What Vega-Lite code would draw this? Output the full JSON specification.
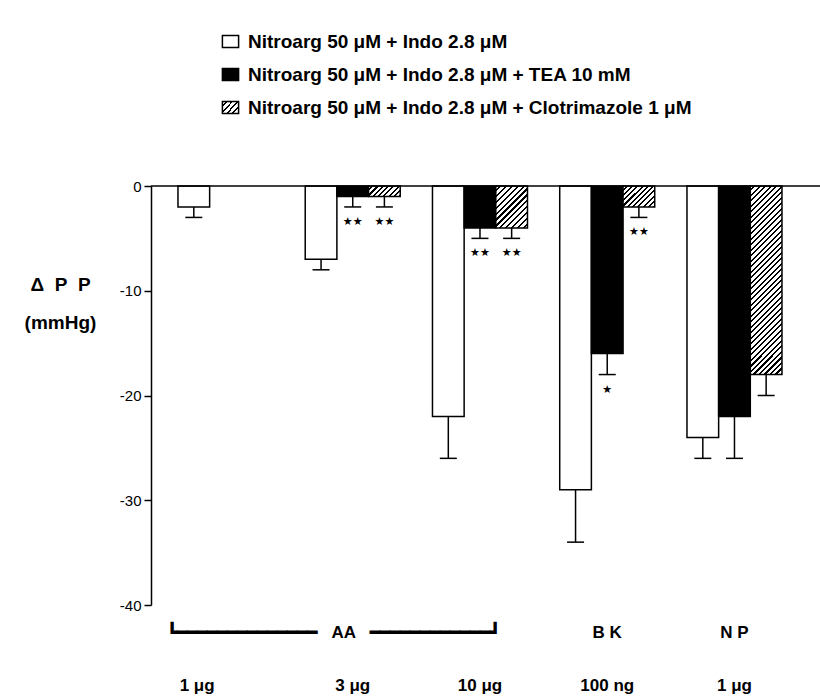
{
  "$schema": "https://vega.github.io/schema/vega-lite/v6.json",
  "width": 669,
  "height": 419,
  "autosize": {"type": "none"},
  "padding": {"left": 151, "top": 186, "right": 0, "bottom": 92},
  "background": "white",
  "config": {"view": {"stroke": null}, "font": "Liberation Sans"},
  "data": {"values": [
    {"grp": "AA 1 μg", "series": "Nitroarg 50 μM + Indo 2.8 μM", "value": -2, "err": -3, "sig": ""},
    {"grp": "AA 3 μg", "series": "Nitroarg 50 μM + Indo 2.8 μM", "value": -7, "err": -8, "sig": ""},
    {"grp": "AA 3 μg", "series": "Nitroarg 50 μM + Indo 2.8 μM + TEA 10 mM", "value": -1, "err": -2, "sig": "★★"},
    {"grp": "AA 3 μg", "series": "Nitroarg 50 μM + Indo 2.8 μM + Clotrimazole 1 μM", "value": -1, "err": -2, "sig": "★★"},
    {"grp": "AA 10 μg", "series": "Nitroarg 50 μM + Indo 2.8 μM", "value": -22, "err": -26, "sig": ""},
    {"grp": "AA 10 μg", "series": "Nitroarg 50 μM + Indo 2.8 μM + TEA 10 mM", "value": -4, "err": -5, "sig": "★★"},
    {"grp": "AA 10 μg", "series": "Nitroarg 50 μM + Indo 2.8 μM + Clotrimazole 1 μM", "value": -4, "err": -5, "sig": "★★"},
    {"grp": "BK 100 ng", "series": "Nitroarg 50 μM + Indo 2.8 μM", "value": -29, "err": -34, "sig": ""},
    {"grp": "BK 100 ng", "series": "Nitroarg 50 μM + Indo 2.8 μM + TEA 10 mM", "value": -16, "err": -18, "sig": "★"},
    {"grp": "BK 100 ng", "series": "Nitroarg 50 μM + Indo 2.8 μM + Clotrimazole 1 μM", "value": -2, "err": -3, "sig": "★★"},
    {"grp": "NP 1 μg", "series": "Nitroarg 50 μM + Indo 2.8 μM", "value": -24, "err": -26, "sig": ""},
    {"grp": "NP 1 μg", "series": "Nitroarg 50 μM + Indo 2.8 μM + TEA 10 mM", "value": -22, "err": -26, "sig": ""},
    {"grp": "NP 1 μg", "series": "Nitroarg 50 μM + Indo 2.8 μM + Clotrimazole 1 μM", "value": -18, "err": -20, "sig": ""}
  ]},
  "layer": [
    {
      "mark": {"type": "bar", "stroke": "black", "strokeWidth": 1.5},
      "encoding": {
        "x": {
          "field": "grp", "type": "nominal",
          "sort": ["AA 1 μg", "AA 3 μg", "AA 10 μg", "BK 100 ng", "NP 1 μg"],
          "scale": {"paddingInner": 0.2534, "paddingOuter": 0.2554, "align": 0.415},
          "axis": {
            "title": null, "domain": false, "ticks": false, "labelAngle": 0,
            "labelFont": "Liberation Sans", "labelFontSize": 17, "labelFontWeight": "bold", "labelColor": "black",
            "labelPadding": 19, "labelLineHeight": 53, "labelBaseline": "top", "labelOverlap": false, "labelLimit": 0,
            "labelExpr": "datum.value == 'AA 1 μg' ? [' ', '1 μg\u00a0\u00a0\u00a0\u00a0\u00a0\u00a0\u00a0\u00a0\u00a0\u00a0\u00a0\u00a0\u200b'] : datum.value == 'AA 3 μg' ? ['┗━━━━━━━━━━━━━━\u00a0\u00a0\u00a0AA\u00a0\u00a0\u00a0━━━━━━━━━━━━┛\u00a0\u00a0\u00a0\u00a0\u00a0\u00a0\u00a0\u00a0\u200b', '3 μg'] : datum.value == 'AA 10 μg' ? [' ', '10 μg'] : datum.value == 'BK 100 ng' ? ['B K', '100 ng'] : ['N P', '1 μg']"
          }
        },
        "xOffset": {
          "field": "series", "type": "nominal",
          "scale": {"domain": ["Nitroarg 50 μM + Indo 2.8 μM", "Nitroarg 50 μM + Indo 2.8 μM + TEA 10 mM", "Nitroarg 50 μM + Indo 2.8 μM + Clotrimazole 1 μM"], "paddingInner": 0, "paddingOuter": 0}
        },
        "y": {
          "field": "value", "type": "quantitative",
          "scale": {"domain": [-40, 0], "nice": false},
          "axis": {
            "title": ["Δ\u00a0\u00a0P\u00a0\u00a0P", "(mmHg)"], "titleAngle": 0, "titleAlign": "center", "titleBaseline": "alphabetic",
            "titleX": -91, "titleY": 104, "titleFont": "Liberation Sans", "titleFontSize": 19, "titleFontWeight": "bold",
            "titleColor": "black", "titleLineHeight": 38,
            "values": [0, -10, -20, -30, -40],
            "labelExpr": "datum.value == 0 ? '0' : '' + datum.value",
            "labelFont": "Liberation Sans", "labelFontSize": 15, "labelColor": "black", "labelPadding": 3,
            "tickSize": 7, "tickWidth": 1.5, "tickColor": "black", "domainColor": "black", "domainWidth": 1.5, "grid": false
          }
        },
        "fill": {
          "field": "series", "type": "nominal",
          "scale": {
            "domain": ["Nitroarg 50 μM + Indo 2.8 μM", "Nitroarg 50 μM + Indo 2.8 μM + TEA 10 mM", "Nitroarg 50 μM + Indo 2.8 μM + Clotrimazole 1 μM"],
            "range": ["white", "black", {"expr": "{gradient: 'linear', x1: 0, y1: 0, x2: 1.154, y2: 0.769, stops: [{offset: 0, color: '#fff'}, {offset: 0.13, color: '#fff'}, {offset: 0.13, color: '#000'}, {offset: 0.2, color: '#000'}, {offset: 0.2, color: '#fff'}, {offset: 0.33, color: '#fff'}, {offset: 0.33, color: '#000'}, {offset: 0.4, color: '#000'}, {offset: 0.4, color: '#fff'}, {offset: 0.53, color: '#fff'}, {offset: 0.53, color: '#000'}, {offset: 0.6, color: '#000'}, {offset: 0.6, color: '#fff'}, {offset: 0.73, color: '#fff'}, {offset: 0.73, color: '#000'}, {offset: 0.8, color: '#000'}, {offset: 0.8, color: '#fff'}, {offset: 0.93, color: '#fff'}, {offset: 0.93, color: '#000'}, {offset: 1, color: '#000'}]}"}]
          },
          "legend": {
            "title": null, "orient": "none", "legendX": 70, "legendY": -154, "direction": "vertical", "padding": 0,
            "symbolType": "M-1.35,-1H1.35V1H-1.35Z", "symbolSize": 144, "symbolStrokeColor": "black", "symbolStrokeWidth": 1.5,
            "labelFont": "Liberation Sans", "labelFontSize": 19, "labelFontWeight": "bold", "labelColor": "black",
            "labelOffset": 8, "rowPadding": 13, "labelLimit": 0
          },
          "condition": [
            {"test": "datum.grp == 'AA 3 μg' && indexof(datum.series, 'Clotri') >= 0", "value": {"gradient": "linear", "x1": 0, "y1": 0, "x2": 1.2, "y2": 0.398, "stops": [
              {"offset": 0, "color": "#fff"}, {"offset": 0.075, "color": "#fff"}, {"offset": 0.075, "color": "#000"}, {"offset": 0.125, "color": "#000"},
              {"offset": 0.125, "color": "#fff"}, {"offset": 0.2, "color": "#fff"}, {"offset": 0.2, "color": "#000"}, {"offset": 0.25, "color": "#000"},
              {"offset": 0.25, "color": "#fff"}, {"offset": 0.325, "color": "#fff"}, {"offset": 0.325, "color": "#000"}, {"offset": 0.375, "color": "#000"},
              {"offset": 0.375, "color": "#fff"}, {"offset": 0.45, "color": "#fff"}, {"offset": 0.45, "color": "#000"}, {"offset": 0.5, "color": "#000"},
              {"offset": 0.5, "color": "#fff"}, {"offset": 0.575, "color": "#fff"}, {"offset": 0.575, "color": "#000"}, {"offset": 0.625, "color": "#000"},
              {"offset": 0.625, "color": "#fff"}, {"offset": 0.7, "color": "#fff"}, {"offset": 0.7, "color": "#000"}, {"offset": 0.75, "color": "#000"},
              {"offset": 0.75, "color": "#fff"}, {"offset": 0.825, "color": "#fff"}, {"offset": 0.825, "color": "#000"}, {"offset": 0.875, "color": "#000"},
              {"offset": 0.875, "color": "#fff"}, {"offset": 0.95, "color": "#fff"}, {"offset": 0.95, "color": "#000"}, {"offset": 1, "color": "#000"}
            ]}},
            {"test": "datum.grp == 'AA 10 μg' && indexof(datum.series, 'Clotri') >= 0", "value": {"gradient": "linear", "x1": 0, "y1": 0, "x2": 0.845, "y2": 1.118, "stops": [
              {"offset": 0, "color": "#fff"}, {"offset": 0.05, "color": "#fff"}, {"offset": 0.05, "color": "#000"}, {"offset": 0.08, "color": "#000"},
              {"offset": 0.08, "color": "#fff"}, {"offset": 0.13, "color": "#fff"}, {"offset": 0.13, "color": "#000"}, {"offset": 0.16, "color": "#000"},
              {"offset": 0.16, "color": "#fff"}, {"offset": 0.21, "color": "#fff"}, {"offset": 0.21, "color": "#000"}, {"offset": 0.24, "color": "#000"},
              {"offset": 0.24, "color": "#fff"}, {"offset": 0.29, "color": "#fff"}, {"offset": 0.29, "color": "#000"}, {"offset": 0.32, "color": "#000"},
              {"offset": 0.32, "color": "#fff"}, {"offset": 0.37, "color": "#fff"}, {"offset": 0.37, "color": "#000"}, {"offset": 0.4, "color": "#000"},
              {"offset": 0.4, "color": "#fff"}, {"offset": 0.45, "color": "#fff"}, {"offset": 0.45, "color": "#000"}, {"offset": 0.48, "color": "#000"},
              {"offset": 0.48, "color": "#fff"}, {"offset": 0.53, "color": "#fff"}, {"offset": 0.53, "color": "#000"}, {"offset": 0.56, "color": "#000"},
              {"offset": 0.56, "color": "#fff"}, {"offset": 0.61, "color": "#fff"}, {"offset": 0.61, "color": "#000"}, {"offset": 0.64, "color": "#000"},
              {"offset": 0.64, "color": "#fff"}, {"offset": 0.69, "color": "#fff"}, {"offset": 0.69, "color": "#000"}, {"offset": 0.72, "color": "#000"},
              {"offset": 0.72, "color": "#fff"}, {"offset": 0.77, "color": "#fff"}, {"offset": 0.77, "color": "#000"}, {"offset": 0.8, "color": "#000"},
              {"offset": 0.8, "color": "#fff"}, {"offset": 0.85, "color": "#fff"}, {"offset": 0.85, "color": "#000"}, {"offset": 0.88, "color": "#000"},
              {"offset": 0.88, "color": "#fff"}, {"offset": 0.93, "color": "#fff"}, {"offset": 0.93, "color": "#000"}, {"offset": 0.96, "color": "#000"},
              {"offset": 0.96, "color": "#fff"}, {"offset": 1, "color": "#fff"}
            ]}},
            {"test": "datum.grp == 'BK 100 ng' && indexof(datum.series, 'Clotri') >= 0", "value": {"gradient": "linear", "x1": 0, "y1": 0, "x2": 1.155, "y2": 0.766, "stops": [
              {"offset": 0, "color": "#fff"}, {"offset": 0.06, "color": "#fff"}, {"offset": 0.06, "color": "#000"}, {"offset": 0.1, "color": "#000"},
              {"offset": 0.1, "color": "#fff"}, {"offset": 0.16, "color": "#fff"}, {"offset": 0.16, "color": "#000"}, {"offset": 0.2, "color": "#000"},
              {"offset": 0.2, "color": "#fff"}, {"offset": 0.26, "color": "#fff"}, {"offset": 0.26, "color": "#000"}, {"offset": 0.3, "color": "#000"},
              {"offset": 0.3, "color": "#fff"}, {"offset": 0.36, "color": "#fff"}, {"offset": 0.36, "color": "#000"}, {"offset": 0.4, "color": "#000"},
              {"offset": 0.4, "color": "#fff"}, {"offset": 0.46, "color": "#fff"}, {"offset": 0.46, "color": "#000"}, {"offset": 0.5, "color": "#000"},
              {"offset": 0.5, "color": "#fff"}, {"offset": 0.56, "color": "#fff"}, {"offset": 0.56, "color": "#000"}, {"offset": 0.6, "color": "#000"},
              {"offset": 0.6, "color": "#fff"}, {"offset": 0.66, "color": "#fff"}, {"offset": 0.66, "color": "#000"}, {"offset": 0.7, "color": "#000"},
              {"offset": 0.7, "color": "#fff"}, {"offset": 0.76, "color": "#fff"}, {"offset": 0.76, "color": "#000"}, {"offset": 0.8, "color": "#000"},
              {"offset": 0.8, "color": "#fff"}, {"offset": 0.86, "color": "#fff"}, {"offset": 0.86, "color": "#000"}, {"offset": 0.9, "color": "#000"},
              {"offset": 0.9, "color": "#fff"}, {"offset": 0.96, "color": "#fff"}, {"offset": 0.96, "color": "#000"}, {"offset": 1, "color": "#000"}
            ]}},
            {"test": "datum.grp == 'NP 1 μg' && indexof(datum.series, 'Clotri') >= 0", "value": {"gradient": "linear", "x1": 0, "y1": 0, "x2": 0.191, "y2": 1.136, "stops": [
              {"offset": 0, "color": "#fff"}, {"offset": 0.015, "color": "#fff"}, {"offset": 0.015, "color": "#000"}, {"offset": 0.025, "color": "#000"},
              {"offset": 0.025, "color": "#fff"}, {"offset": 0.04, "color": "#fff"}, {"offset": 0.04, "color": "#000"}, {"offset": 0.05, "color": "#000"},
              {"offset": 0.05, "color": "#fff"}, {"offset": 0.065, "color": "#fff"}, {"offset": 0.065, "color": "#000"}, {"offset": 0.075, "color": "#000"},
              {"offset": 0.075, "color": "#fff"}, {"offset": 0.09, "color": "#fff"}, {"offset": 0.09, "color": "#000"}, {"offset": 0.1, "color": "#000"},
              {"offset": 0.1, "color": "#fff"}, {"offset": 0.115, "color": "#fff"}, {"offset": 0.115, "color": "#000"}, {"offset": 0.125, "color": "#000"},
              {"offset": 0.125, "color": "#fff"}, {"offset": 0.14, "color": "#fff"}, {"offset": 0.14, "color": "#000"}, {"offset": 0.15, "color": "#000"},
              {"offset": 0.15, "color": "#fff"}, {"offset": 0.165, "color": "#fff"}, {"offset": 0.165, "color": "#000"}, {"offset": 0.175, "color": "#000"},
              {"offset": 0.175, "color": "#fff"}, {"offset": 0.19, "color": "#fff"}, {"offset": 0.19, "color": "#000"}, {"offset": 0.2, "color": "#000"},
              {"offset": 0.2, "color": "#fff"}, {"offset": 0.215, "color": "#fff"}, {"offset": 0.215, "color": "#000"}, {"offset": 0.225, "color": "#000"},
              {"offset": 0.225, "color": "#fff"}, {"offset": 0.24, "color": "#fff"}, {"offset": 0.24, "color": "#000"}, {"offset": 0.25, "color": "#000"},
              {"offset": 0.25, "color": "#fff"}, {"offset": 0.265, "color": "#fff"}, {"offset": 0.265, "color": "#000"}, {"offset": 0.275, "color": "#000"},
              {"offset": 0.275, "color": "#fff"}, {"offset": 0.29, "color": "#fff"}, {"offset": 0.29, "color": "#000"}, {"offset": 0.3, "color": "#000"},
              {"offset": 0.3, "color": "#fff"}, {"offset": 0.315, "color": "#fff"}, {"offset": 0.315, "color": "#000"}, {"offset": 0.325, "color": "#000"},
              {"offset": 0.325, "color": "#fff"}, {"offset": 0.34, "color": "#fff"}, {"offset": 0.34, "color": "#000"}, {"offset": 0.35, "color": "#000"},
              {"offset": 0.35, "color": "#fff"}, {"offset": 0.365, "color": "#fff"}, {"offset": 0.365, "color": "#000"}, {"offset": 0.375, "color": "#000"},
              {"offset": 0.375, "color": "#fff"}, {"offset": 0.39, "color": "#fff"}, {"offset": 0.39, "color": "#000"}, {"offset": 0.4, "color": "#000"},
              {"offset": 0.4, "color": "#fff"}, {"offset": 0.415, "color": "#fff"}, {"offset": 0.415, "color": "#000"}, {"offset": 0.425, "color": "#000"},
              {"offset": 0.425, "color": "#fff"}, {"offset": 0.44, "color": "#fff"}, {"offset": 0.44, "color": "#000"}, {"offset": 0.45, "color": "#000"},
              {"offset": 0.45, "color": "#fff"}, {"offset": 0.465, "color": "#fff"}, {"offset": 0.465, "color": "#000"}, {"offset": 0.475, "color": "#000"},
              {"offset": 0.475, "color": "#fff"}, {"offset": 0.49, "color": "#fff"}, {"offset": 0.49, "color": "#000"}, {"offset": 0.5, "color": "#000"},
              {"offset": 0.5, "color": "#fff"}, {"offset": 0.515, "color": "#fff"}, {"offset": 0.515, "color": "#000"}, {"offset": 0.525, "color": "#000"},
              {"offset": 0.525, "color": "#fff"}, {"offset": 0.54, "color": "#fff"}, {"offset": 0.54, "color": "#000"}, {"offset": 0.55, "color": "#000"},
              {"offset": 0.55, "color": "#fff"}, {"offset": 0.565, "color": "#fff"}, {"offset": 0.565, "color": "#000"}, {"offset": 0.575, "color": "#000"},
              {"offset": 0.575, "color": "#fff"}, {"offset": 0.59, "color": "#fff"}, {"offset": 0.59, "color": "#000"}, {"offset": 0.6, "color": "#000"},
              {"offset": 0.6, "color": "#fff"}, {"offset": 0.615, "color": "#fff"}, {"offset": 0.615, "color": "#000"}, {"offset": 0.625, "color": "#000"},
              {"offset": 0.625, "color": "#fff"}, {"offset": 0.64, "color": "#fff"}, {"offset": 0.64, "color": "#000"}, {"offset": 0.65, "color": "#000"},
              {"offset": 0.65, "color": "#fff"}, {"offset": 0.665, "color": "#fff"}, {"offset": 0.665, "color": "#000"}, {"offset": 0.675, "color": "#000"},
              {"offset": 0.675, "color": "#fff"}, {"offset": 0.69, "color": "#fff"}, {"offset": 0.69, "color": "#000"}, {"offset": 0.7, "color": "#000"},
              {"offset": 0.7, "color": "#fff"}, {"offset": 0.715, "color": "#fff"}, {"offset": 0.715, "color": "#000"}, {"offset": 0.725, "color": "#000"},
              {"offset": 0.725, "color": "#fff"}, {"offset": 0.74, "color": "#fff"}, {"offset": 0.74, "color": "#000"}, {"offset": 0.75, "color": "#000"},
              {"offset": 0.75, "color": "#fff"}, {"offset": 0.765, "color": "#fff"}, {"offset": 0.765, "color": "#000"}, {"offset": 0.775, "color": "#000"},
              {"offset": 0.775, "color": "#fff"}, {"offset": 0.79, "color": "#fff"}, {"offset": 0.79, "color": "#000"}, {"offset": 0.8, "color": "#000"},
              {"offset": 0.8, "color": "#fff"}, {"offset": 0.815, "color": "#fff"}, {"offset": 0.815, "color": "#000"}, {"offset": 0.825, "color": "#000"},
              {"offset": 0.825, "color": "#fff"}, {"offset": 0.84, "color": "#fff"}, {"offset": 0.84, "color": "#000"}, {"offset": 0.85, "color": "#000"},
              {"offset": 0.85, "color": "#fff"}, {"offset": 0.865, "color": "#fff"}, {"offset": 0.865, "color": "#000"}, {"offset": 0.875, "color": "#000"},
              {"offset": 0.875, "color": "#fff"}, {"offset": 0.89, "color": "#fff"}, {"offset": 0.89, "color": "#000"}, {"offset": 0.9, "color": "#000"},
              {"offset": 0.9, "color": "#fff"}, {"offset": 0.915, "color": "#fff"}, {"offset": 0.915, "color": "#000"}, {"offset": 0.925, "color": "#000"},
              {"offset": 0.925, "color": "#fff"}, {"offset": 0.94, "color": "#fff"}, {"offset": 0.94, "color": "#000"}, {"offset": 0.95, "color": "#000"},
              {"offset": 0.95, "color": "#fff"}, {"offset": 0.965, "color": "#fff"}, {"offset": 0.965, "color": "#000"}, {"offset": 0.975, "color": "#000"},
              {"offset": 0.975, "color": "#fff"}, {"offset": 0.99, "color": "#fff"}, {"offset": 0.99, "color": "#000"}, {"offset": 1, "color": "#000"}
            ]}}
          ]
        }
      }
    },
    {
      "mark": {"type": "rule", "strokeWidth": 1.5, "color": "black"},
      "encoding": {
        "x": {"field": "grp", "type": "nominal", "sort": ["AA 1 μg", "AA 3 μg", "AA 10 μg", "BK 100 ng", "NP 1 μg"]},
        "xOffset": {"field": "series", "type": "nominal"},
        "y": {"field": "value", "type": "quantitative"},
        "y2": {"field": "err"}
      }
    },
    {
      "mark": {"type": "tick", "size": 17, "thickness": 1.5, "color": "black", "opacity": 1},
      "encoding": {
        "x": {"field": "grp", "type": "nominal", "sort": ["AA 1 μg", "AA 3 μg", "AA 10 μg", "BK 100 ng", "NP 1 μg"]},
        "xOffset": {"field": "series", "type": "nominal"},
        "y": {"field": "err", "type": "quantitative"}
      }
    },
    {
      "transform": [{"filter": "datum.sig != ''"}],
      "mark": {"type": "text", "dy": 15, "fontSize": 11, "baseline": "middle", "color": "black", "font": "DejaVu Sans"},
      "encoding": {
        "x": {"field": "grp", "type": "nominal", "sort": ["AA 1 μg", "AA 3 μg", "AA 10 μg", "BK 100 ng", "NP 1 μg"]},
        "xOffset": {"field": "series", "type": "nominal"},
        "y": {"field": "err", "type": "quantitative"},
        "text": {"field": "sig"}
      }
    },
    {
      "data": {"values": [{}]},
      "mark": {"type": "rule", "strokeWidth": 1.5, "color": "black"},
      "encoding": {"y": {"datum": 0}}
    }
  ]
}
